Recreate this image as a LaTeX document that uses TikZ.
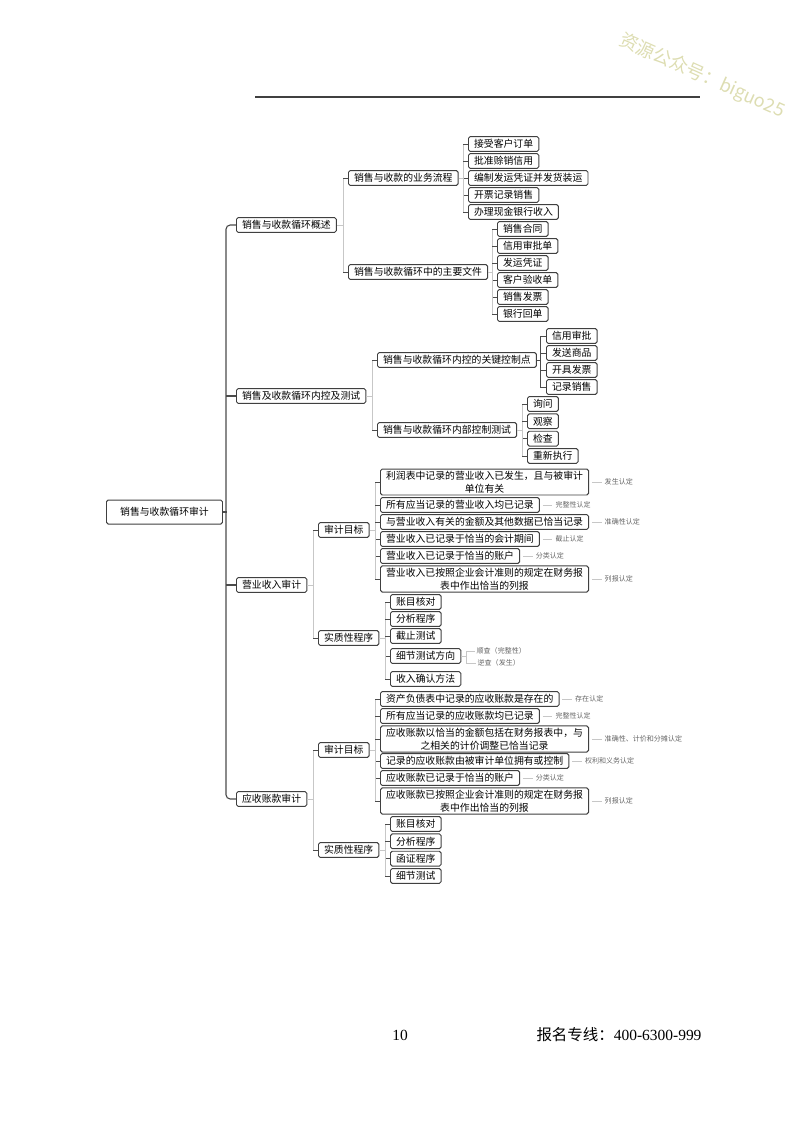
\documentclass[tikz,border=0pt]{standalone}
\usepackage{fontspec}
\setmainfont{Noto Sans CJK SC}
\newfontfamily\serifnum{Liberation Serif}
\usetikzlibrary{positioning}
\definecolor{wmark}{RGB}{221,221,178}

\begin{document}
\begin{tikzpicture}[font=\fontsize{7}{9}\selectfont,
			box/.style={draw=black!75, line width=0.7pt, rounded corners=1.2pt, fill=white,
				inner xsep=4pt, inner ysep=1.5pt, minimum height=0.37cm, anchor=west},
			tall/.style={box, align=center},
			note/.style={font=\fontsize{5}{6}\selectfont, text=black!60, inner sep=1pt, anchor=west},
			link/.style={draw=black!22, line width=0.4pt},
			stub/.style={draw=black!70, line width=0.6pt},
			trunk/.style={draw=black!70, line width=0.8pt}]
			\useasboundingbox (0,0) rectangle (20,-28.1);
			% 页眉线与水印
			\draw[black!75, line width=0.8pt] (6.375,-2.425) -- (17.5,-2.425);
			\node[rotate=-24, text=wmark, font=\fontsize{13}{13}\selectfont] (wm) at (17.55,-1.9) {资源公众号：biguo25};
			% 根与一级
			\node[box, minimum width=2.9cm, minimum height=0.6cm] (root) at (2.65,-12.8) {销售与收款循环审计};
			\node[box] (gs) at (5.9,-5.625) {销售与收款循环概述};
			\node[box] (nk) at (5.9,-9.9) {销售及收款循环内控及测试};
			\node[box] (yy) at (5.9,-14.625) {营业收入审计};
			\node[box] (ys) at (5.9,-19.975) {应收账款审计};
			% 二级
			\node[box] (lc) at (8.7,-4.45) {销售与收款的业务流程};
			\node[box] (wj) at (8.7,-6.8) {销售与收款循环中的主要文件};
			\node[box] (kz) at (9.425,-9.0) {销售与收款循环内控的关键控制点};
			\node[box] (cs) at (9.425,-10.75) {销售与收款循环内部控制测试};
			\node[box] (yymb) at (7.95,-13.25) {审计目标};
			\node[box] (yycx) at (7.95,-15.95) {实质性程序};
			\node[box] (ysmb) at (7.95,-18.75) {审计目标};
			\node[box] (yscx) at (7.95,-21.25) {实质性程序};
			% 三级：概述
			\foreach \t [count=\i] in {接受客户订单,批准赊销信用,编制发运凭证并发货装运,开票记录销售,办理现金银行收入}{
				\node[box] (lc\i) at (11.7,{-3.6-0.425*(\i-1)}) {\t};
			}
			\foreach \t [count=\i] in {销售合同,信用审批单,发运凭证,客户验收单,销售发票,银行回单}{
				\node[box] (wj\i) at (12.425,{-5.725-0.425*(\i-1)}) {\t};
			}
			% 三级：内控
			\foreach \t [count=\i] in {信用审批,发送商品,开具发票,记录销售}{
				\node[box] (kz\i) at (13.65,{-8.4-0.425*(\i-1)}) {\t};
			}
			\foreach \t [count=\i] in {询问,观察,检查,重新执行}{
				\node[box] (cs\i) at (13.175,{-10.1-0.433*(\i-1)}) {\t};
			}
			% 三级：营业收入审计目标
			\node[tall] (ym1) at (9.5,-12.05) {利润表中记录的营业收入已发生，且与被审计\\单位有关};
			\node[box] (ym2) at (9.5,-12.625) {所有应当记录的营业收入均已记录};
			\node[box] (ym3) at (9.5,-13.05) {与营业收入有关的金额及其他数据已恰当记录};
			\node[box] (ym4) at (9.5,-13.475) {营业收入已记录于恰当的会计期间};
			\node[box] (ym5) at (9.5,-13.9) {营业收入已记录于恰当的账户};
			\node[tall] (ym6) at (9.5,-14.475) {营业收入已按照企业会计准则的规定在财务报\\表中作出恰当的列报};
			\foreach \k/\t in {1/发生认定,2/完整性认定,3/准确性认定,4/截止认定,5/分类认定,6/列报认定}{
				\node[note, right=3.5mm of ym\k] (ym\k n) {\t};
				\draw[link, shorten <=2pt, shorten >=1pt] (ym\k) -- (ym\k n);
			}
			% 三级：营业收入实质性程序
			\foreach \t/\y [count=\i] in {账目核对/-15.05,分析程序/-15.475,截止测试/-15.9,细节测试方向/-16.4,收入确认方法/-16.975}{
				\node[box] (yc\i) at (9.75,\y) {\t};
			}
			\node[note] (sx) at (11.875,-16.275) {顺查（完整性）};
			\node[note] (nx) at (11.9,-16.575) {逆查（发生）};
			\draw[link] (yc4.east) -- ++(0.12,0) |- (sx.west);
			\draw[link] (yc4.east) -- ++(0.12,0) |- (nx.west);
			% 三级：应收账款审计目标
			\node[box] (sm1) at (9.5,-17.475) {资产负债表中记录的应收账款是存在的};
			\node[box] (sm2) at (9.5,-17.9) {所有应当记录的应收账款均已记录};
			\node[tall] (sm3) at (9.5,-18.475) {应收账款以恰当的金额包括在财务报表中，与\\之相关的计价调整已恰当记录};
			\node[box] (sm4) at (9.5,-19.025) {记录的应收账款由被审计单位拥有或控制};
			\node[box] (sm5) at (9.5,-19.45) {应收账款已记录于恰当的账户};
			\node[tall] (sm6) at (9.5,-20.025) {应收账款已按照企业会计准则的规定在财务报\\表中作出恰当的列报};
			\foreach \k/\t in {1/存在认定,2/完整性认定,3/准确性、计价和分摊认定,4/权利和义务认定,5/分类认定,6/列报认定}{
				\node[note, right=3.5mm of sm\k] (sm\k n) {\t};
				\draw[link, shorten <=2pt, shorten >=1pt] (sm\k) -- (sm\k n);
			}
			% 三级：应收账款实质性程序
			\foreach \t [count=\i] in {账目核对,分析程序,函证程序,细节测试}{
				\node[box] (sc\i) at (9.75,{-20.6-0.433*(\i-1)}) {\t};
			}
			% 根到一级 — 深色主干
			\draw[trunk, rounded corners=3pt] (gs.west) -- ++(-0.25,0) |- (ys.west);
			\draw[trunk] (root.east) -- ++(0.1,0);
			\draw[trunk] (nk.west) -- ++(-0.25,0);
			\draw[trunk] (yy.west) -- ++(-0.25,0);
			% 一级到二级
			\foreach \p/\c in {gs/lc,gs/wj,nk/kz,nk/cs,yy/yymb,yy/yycx,ys/ysmb,ys/yscx}{
				\draw[link] (\c.west) -- ++(-0.13,0) |- (\p.east);
				\draw[stub] (\c.west) -- ++(-0.12,0);
			}
			% 二级到三级
			\foreach \p/\n in {lc/5,wj/6,cs/4}{
				\foreach \i in {1,...,\n}{
					\draw[link] (\p\i.west) -- ++(-0.13,0) |- (\p.east);
					\draw[stub] (\p\i.west) -- ++(-0.12,0);
				}
			}
			\foreach \i in {1,...,4}{
				\draw[stub] (kz\i.west) -- ++(-0.13,0) |- (kz.east);
			}
			\foreach \i in {1,...,6}{
				\draw[link] (ym\i.west) -- ++(-0.13,0) |- (yymb.east);
				\draw[stub] (ym\i.west) -- ++(-0.12,0);
				\draw[link] (sm\i.west) -- ++(-0.13,0) |- (ysmb.east);
				\draw[stub] (sm\i.west) -- ++(-0.12,0);
			}
			\foreach \i in {1,...,5}{
				\draw[link] (yc\i.west) -- ++(-0.13,0) |- (yycx.east);
				\draw[stub] (yc\i.west) -- ++(-0.12,0);
			}
			\foreach \i in {1,...,4}{
				\draw[link] (sc\i.west) -- ++(-0.13,0) |- (yscx.east);
				\draw[stub] (sc\i.west) -- ++(-0.12,0);
			}
			% 页脚
			\node[font=\serifnum\fontsize{11}{11}\selectfont] (pg) at (10.0,-25.875) {10};
			\node[font=\fontsize{11}{11}\selectfont] (tel) at (15.475,-25.875) {报名专线：{\serifnum 400-6300-999}};
		\end{tikzpicture}
\end{document}
